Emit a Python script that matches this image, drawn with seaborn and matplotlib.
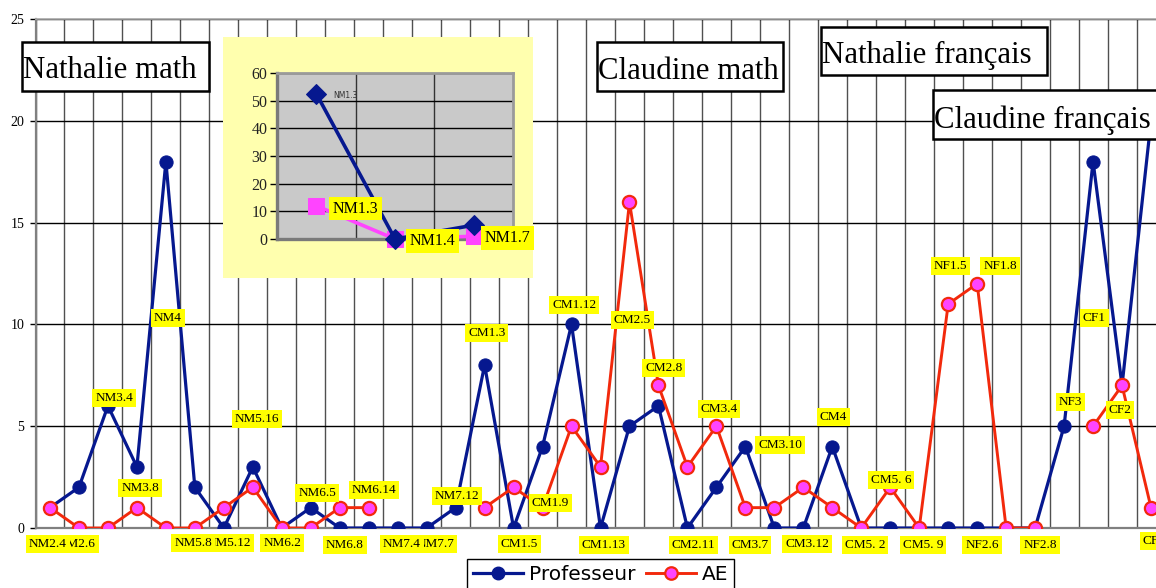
import numpy as np
import pandas as pd
import matplotlib
matplotlib.use("Agg")
import matplotlib.pyplot as plt
import seaborn as sns
from matplotlib.patches import Rectangle
from matplotlib.lines import Line2D

# ---- data -------------------------------------------------------------
codes = ["NM2.4", "NM2.6", "NM3.4", "NM3.8", "NM4", "NM5.8", "NM5.12", "NM5.16",
         "NM6.2", "NM6.5", "NM6.8", "NM6.14", "NM7.4", "NM7.7", "NM7.12",
         "CM1.3", "CM1.5", "CM1.9", "CM1.12", "CM1.13", "CM2.5", "CM2.8", "CM2.11",
         "CM3.4", "CM3.7", "CM3.10", "CM3.12", "CM4", "CM5. 2", "CM5. 6", "CM5. 9",
         "NF1.5", "NF1.8", "NF2.6", "NF2.8", "NF3", "CF1", "CF2", "CF3"]
professeur = [1, 2, 6, 3, 18, 2, 0, 3, 0, 1, 0, 0, 0, 0, 1, 8, 0, 4, 10, 0,
              5, 6, 0, 2, 4, 0, 0, 4, 0, 0, 0, 0, 0, 0, 0, 5, 18, 7, 20]
ae = [1, 0, 0, 1, 0, 0, 1, 2, 0, 0, 1, 1, np.nan, np.nan, np.nan, 1, 2, 1, 5, 3,
      16, 7, 3, 5, 1, 1, 2, 1, 0, 2, 0, 11, 12, 0, 0, np.nan, 5, 7, 1]

inset_codes = ["NM1.3", "NM1.4", "NM1.7"]
inset_professeur = [52.5, 0, 5]
inset_ae = [12, 0, 1]

section_titles = ["Nathalie math", "Claudine math", "Nathalie français", "Claudine français"]
series_names = ["Professeur", "AE"]

# ---- layout / style -----------------------------------------------------
W, H = 1156, 588
BLUE = "#06188F"
RED = "#F2290C"
PINK = "#FF44FF"
SERIF = "Liberation Serif"

# label anchors (category position, value) for each point's code
label_xy = [(-0.07, -0.79), (0.93, -0.79), (2.21, 6.39), (3.11, 1.96), (4.07, 10.31),
            (4.94, -0.74), (6.18, -0.74), (7.15, 5.35), (8.01, -0.74), (9.22, 1.72),
            (10.18, -0.83), (11.18, 1.87), (12.15, -0.79), (13.29, -0.79), (14.05, 1.57),
            (15.08, 9.58), (16.19, -0.79), (17.26, 1.23), (18.09, 10.95), (19.12, -0.83),
            (20.09, 10.22), (21.19, 7.86), (22.2, -0.83), (23.09, 5.84), (24.16, -0.83),
            (25.2, 4.08), (26.13, -0.79), (27.03, 5.45), (28.13, -0.83), (29.03, 2.36),
            (30.13, -0.83), (31.07, 12.87), (32.79, 12.87), (32.17, -0.83), (34.17, -0.83),
            (35.21, 6.19), (36.04, 10.31), (36.93, 5.8), (38.1, -0.64)]

# section title boxes in pixels: left, top, right, bottom, text baseline
title_boxes = [(22, 42, 209, 91, 78), (597, 42, 783, 91, 79),
               (821, 27, 1047, 75, 63), (933, 90, 1162, 139, 128)]

plt.rcParams["font.family"] = ["DejaVu Sans"]

fig = plt.figure(figsize=(W / 100, H / 100), dpi=100)
fig.patch.set_facecolor("white")


def fx(px):
    return px / W


def fy(py):
    return 1 - py / H


ax = fig.add_axes([fx(35.5), fy(528), 1130 / W, 509 / H])
ax.set_facecolor("white")

n = len(codes)
df = pd.DataFrame({"pos": np.arange(n), "code": codes,
                   "prof": professeur, "ae": ae})
df["seg"] = df["ae"].isna().cumsum()
df_ae = df.dropna(subset=["ae"])

sns.lineplot(data=df, x="pos", y="prof", ax=ax, color=BLUE, lw=2.3,
             marker="o", markersize=9.5, markeredgecolor=BLUE,
             markerfacecolor=BLUE, zorder=4, legend=False)
sns.lineplot(data=df_ae, x="pos", y="ae", units="seg", estimator=None, ax=ax,
             color=RED, lw=2.1, marker="o", markersize=9.5,
             markeredgecolor=RED, markeredgewidth=1.6, markerfacecolor=PINK,
             zorder=5, legend=False)

ax.set_xlim(-0.5, n - 0.5)
ax.set_ylim(0, 25)
ax.set_xticks([])
ax.set_xticks(np.arange(-0.5, n, 1.0), minor=True)
ax.set_yticks(np.arange(0, 26, 5))
ax.set_yticklabels([str(v) for v in range(0, 26, 5)], fontfamily=SERIF, fontsize=10)
ax.tick_params(axis="y", which="major", length=4, width=1, color="black", pad=4)
ax.tick_params(axis="x", which="both", length=0)
ax.grid(axis="x", which="minor", color="#505050", lw=1.0, zorder=1)
ax.grid(axis="y", which="major", color="black", lw=1.0, zorder=1)
ax.set_axisbelow(True)
ax.set_xlabel("")
ax.set_ylabel("")
for side in ["left", "bottom"]:
    ax.spines[side].set_color("#808080")
    ax.spines[side].set_linewidth(1.6)
ax.spines["top"].set_color("#a8a8a8")
ax.spines["top"].set_linewidth(1.2)
ax.spines["right"].set_visible(False)

# yellow data labels
for i, (code, (lx, ly)) in enumerate(zip(codes, label_xy)):
    ax.text(lx, ly, code, ha="center", va="center", fontsize=9.5,
            fontfamily=SERIF, color="black", zorder=10 + (n - i) * 0.01,
            bbox=dict(boxstyle="square,pad=0.22", facecolor="#FFFF00",
                      edgecolor="none"))

# ---- inset chart ------------------------------------------------------
bg = Rectangle((fx(223), fy(278)), fx(533) - fx(223), fy(37) - fy(278),
               transform=fig.transFigure, facecolor="#FFFFAE",
               edgecolor="none", zorder=1)
fig.patches.append(bg)

iax = fig.add_axes([fx(277), fy(239), 236 / W, 166 / H])
iax.set_zorder(2)
iax.set_facecolor("#C9C9C9")
idf = pd.DataFrame({"pos": np.arange(3), "code": inset_codes,
                    "prof": inset_professeur, "ae": inset_ae})
sns.lineplot(data=idf, x="pos", y="ae", ax=iax, color=PINK, lw=2.6,
             marker="s", markersize=12, markeredgecolor=PINK,
             markerfacecolor=PINK, zorder=3, legend=False, clip_on=False)
sns.lineplot(data=idf, x="pos", y="prof", ax=iax, color=BLUE, lw=2.6,
             marker="D", markersize=10, markeredgecolor=BLUE,
             markerfacecolor=BLUE, zorder=4, legend=False, clip_on=False)
iax.set_xlim(-0.5, 2.5)
iax.set_ylim(0, 60)
iax.set_xticks([])
iax.set_xticks([0.5, 1.5], minor=True)
iax.set_yticks(np.arange(0, 61, 10))
iax.set_yticklabels([str(v) for v in range(0, 61, 10)], fontfamily=SERIF,
                    fontsize=11.5, color="#222222")
iax.tick_params(axis="y", which="major", length=5, width=1, color="black", pad=2)
iax.tick_params(axis="x", which="both", length=0)
iax.grid(axis="x", which="minor", color="#333333", lw=1.0)
iax.grid(axis="y", which="major", color="black", lw=1.0)
iax.set_axisbelow(True)
iax.set_xlabel("")
iax.set_ylabel("")
for side in ["left", "bottom"]:
    iax.spines[side].set_color("#7a7a7a")
    iax.spines[side].set_linewidth(2.4)
for side in ["top", "right"]:
    iax.spines[side].set_color("#9a9a9a")
    iax.spines[side].set_linewidth(2.0)

iax.text(0.212, 52.0, inset_codes[0], ha="left", va="center", fontsize=5.5,
         color="#333333", zorder=6, clip_on=False)
inset_label_xy = [(0.50, 11.0), (1.48, -0.72), (2.43, 0.36)]
for code, (lx, ly) in zip(inset_codes, inset_label_xy):
    iax.text(lx, ly, code, ha="center", va="center", fontsize=11.5,
             fontfamily=SERIF, color="black", zorder=6, clip_on=False,
             bbox=dict(boxstyle="square,pad=0.22", facecolor="#FFFF00",
                       edgecolor="none"))

# ---- section title boxes ------------------------------------------------
for title, (l, t, r, b, base) in zip(section_titles, title_boxes):
    rect = Rectangle((fx(l), fy(b)), fx(r) - fx(l), fy(t) - fy(b),
                     transform=fig.transFigure, facecolor="white",
                     edgecolor="black", lw=1.8, zorder=5)
    fig.patches.append(rect)
    fig.text(fx(l + 1), fy(base), title, ha="left", va="baseline",
             fontsize=22.2, fontfamily=SERIF, color="black", zorder=6)

# ---- legend -----------------------------------------------------------
handles = [Line2D([], [], color=BLUE, lw=2.3, marker="o", markersize=9,
                  markerfacecolor=BLUE, markeredgecolor=BLUE),
           Line2D([], [], color=RED, lw=2.1, marker="o", markersize=9,
                  markerfacecolor=PINK, markeredgecolor=RED, markeredgewidth=1.6)]
leg = fig.legend(handles, series_names, loc="upper center",
                 bbox_to_anchor=(fx(600.5), fy(559)), ncol=2, frameon=True,
                 fancybox=False, edgecolor="black", framealpha=1,
                 fontsize=14.5, handlelength=2.5, handletextpad=0.3,
                 columnspacing=0.5, borderpad=0.3, borderaxespad=0)
leg.get_frame().set_linewidth(1.0)
leg.set_zorder(7)

fig.savefig("out.png", dpi=100)
